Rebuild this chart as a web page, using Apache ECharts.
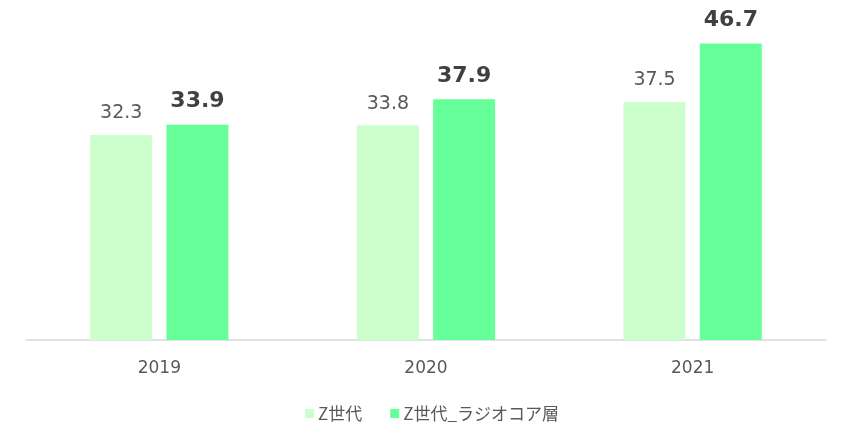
<!DOCTYPE html>
<html><head><meta charset="utf-8">
<script src="https://cdn.jsdelivr.net/npm/echarts@6/dist/echarts.min.js"></script>
<style>html,body{margin:0;padding:0;background:#fff}#c{width:850px;height:442px}</style>
</head><body><div id="c"></div>
<script>
const categories = ['2019', '2020', '2021'];
const seriesNames = ['Z世代', 'Z世代_ラジオコア層'];
const genZ = [32.3, 33.8, 37.5];
const genZRadio = [33.9, 37.9, 46.7];

const chart = echarts.init(document.getElementById('c'));
const numFont = '"DejaVu Sans", sans-serif';
const cjkFont = '"Noto Sans CJK JP", sans-serif';
chart.setOption({
  animation: false,
  textStyle: { fontFamily: numFont },
  grid: { left: 26, right: 24, top: 22.5, bottom: 102 },
  legend: {
    top: 400, left: 300, itemWidth: 9, itemHeight: 9, itemGap: 28,
    icon: 'rect',
    textStyle: { fontSize: 17, color: '#595959', fontFamily: cjkFont, padding: [0, 0, 0, -1] }
  },
  xAxis: {
    type: 'category', data: categories,
    axisLine: { lineStyle: { color: '#d9d9d9', width: 1.5 } },
    axisTick: { show: false },
    axisLabel: { fontSize: 17, color: '#595959', margin: 20, fontFamily: numFont }
  },
  yAxis: { type: 'value', min: 0, max: 50, show: false, splitLine: { show: false } },
  series: [
    { name: seriesNames[0], type: 'bar', data: genZ, barWidth: 62, barGap: '23%',
      itemStyle: { color: '#CCFFCC' },
      label: { show: true, position: 'top', distance: 12, fontSize: 19, color: '#595959', fontFamily: numFont, formatter: p => p.value.toFixed(1) } },
    { name: seriesNames[1], type: 'bar', data: genZRadio, barWidth: 62,
      itemStyle: { color: '#66FF99' },
      label: { show: true, position: 'top', distance: 12, fontSize: 22, fontWeight: 'bold', color: '#404040', fontFamily: numFont, formatter: p => p.value.toFixed(1) } }
  ]
});
</script></body></html>
